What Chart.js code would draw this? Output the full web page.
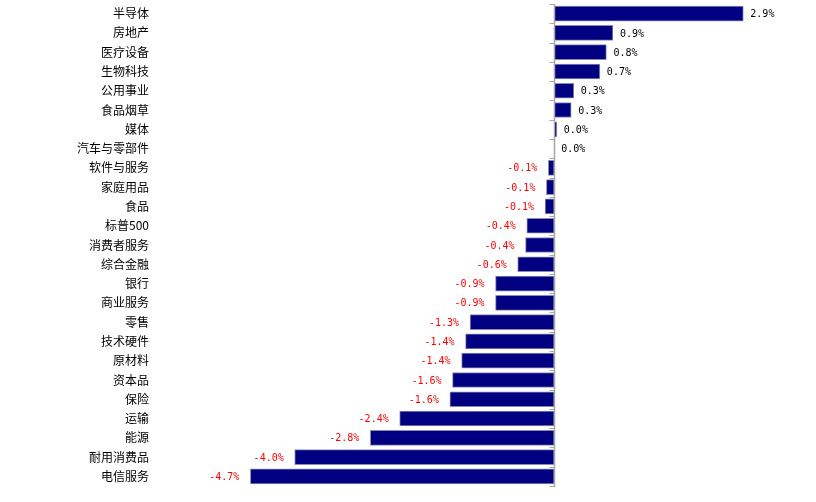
<!DOCTYPE html>
<html>
<head>
<meta charset="utf-8">
<script src="https://cdn.jsdelivr.net/npm/chart.js@4.4.1/dist/chart.umd.min.js"></script>
<style>
  html, body { margin: 0; padding: 0; background: #fff; }
  #wrap { width: 816px; height: 502px; position: relative; }
</style>
</head>
<body>
<div id="wrap"><canvas id="sectorChart"></canvas></div>
<script>
// Catégories (secteurs) et performances en %
const sectors = ['半导体', '房地产', '医疗设备', '生物科技', '公用事业', '食品烟草', '媒体', '汽车与零部件',
  '软件与服务', '家庭用品', '食品', '标普500', '消费者服务', '综合金融', '银行', '商业服务', '零售',
  '技术硬件', '原材料', '资本品', '保险', '运输', '能源', '耐用消费品', '电信服务'];
const returns = [2.9, 0.9, 0.8, 0.7, 0.3, 0.26, 0.04, 0.0,
  -0.09, -0.12, -0.14, -0.42, -0.44, -0.56, -0.9, -0.9, -1.29,
  -1.36, -1.42, -1.56, -1.6, -2.37, -2.82, -3.98, -4.66];

// Axe vertical gris au zéro + petites graduations à gauche
const zeroAxisPlugin = {
  id: 'zeroAxis',
  afterDatasetsDraw(chart) {
    const ctx = chart.ctx;
    const area = chart.chartArea;
    const x0 = Math.round(chart.scales.x.getPixelForValue(0)) + 0.5;
    const step = (area.bottom - area.top) / sectors.length;
    ctx.save();
    ctx.strokeStyle = '#a8a8a8';
    ctx.lineWidth = 1.5;
    ctx.beginPath();
    ctx.moveTo(x0, area.top);
    ctx.lineTo(x0, area.bottom + 1);
    ctx.stroke();
    ctx.lineWidth = 1;
    for (let i = 0; i <= sectors.length; i++) {
      const y = Math.round(area.top + i * step) + 0.5;
      ctx.beginPath();
      ctx.moveTo(x0 - 5, y);
      ctx.lineTo(x0, y);
      ctx.stroke();
    }
    ctx.restore();
  }
};

// Étiquettes de valeur : noir à droite si positif, rouge à gauche si négatif
const valueLabelPlugin = {
  id: 'valueLabels',
  afterDatasetsDraw(chart) {
    const ctx = chart.ctx;
    const meta = chart.getDatasetMeta(0);
    ctx.save();
    ctx.font = '10px "DejaVu Sans Mono"';
    ctx.textBaseline = 'middle';
    meta.data.forEach((bar, i) => {
      const v = returns[i];
      const txt = v.toFixed(1) + '%';
      if (v >= 0) {
        ctx.fillStyle = '#000000';
        ctx.textAlign = 'left';
        ctx.fillText(txt, bar.x + 7, bar.y + 1);
      } else {
        ctx.fillStyle = '#ff0000';
        ctx.textAlign = 'right';
        ctx.fillText(txt, bar.x - 11, bar.y + 1);
      }
    });
    ctx.restore();
  }
};

new Chart(document.getElementById('sectorChart'), {
  type: 'bar',
  data: {
    labels: sectors,
    datasets: [{
      data: returns,
      backgroundColor: '#000080',
      borderColor: '#8a8ab8',
      borderWidth: 1,
      borderSkipped: false,
      barThickness: 15
    }]
  },
  options: {
    indexAxis: 'y',
    responsive: true,
    maintainAspectRatio: false,
    animation: false,
    layout: { padding: { top: 4, bottom: 16, left: 0, right: 14 } },
    plugins: {
      legend: { display: false },
      tooltip: { enabled: false }
    },
    scales: {
      x: {
        display: false,
        min: -6,
        max: 3.8
      },
      y: {
        grid: { display: false, drawTicks: false },
        border: { display: false },
        ticks: {
          color: '#000000',
          padding: 14,
          autoSkip: false,
          font: { family: '"Noto Sans CJK SC"', size: 12 }
        },
        afterFit(scale) {
          scale.width = 163;
          scale.paddingTop = 0;
          scale.paddingBottom = 0;
        }
      }
    }
  },
  plugins: [zeroAxisPlugin, valueLabelPlugin]
});
</script>
</body>
</html>
